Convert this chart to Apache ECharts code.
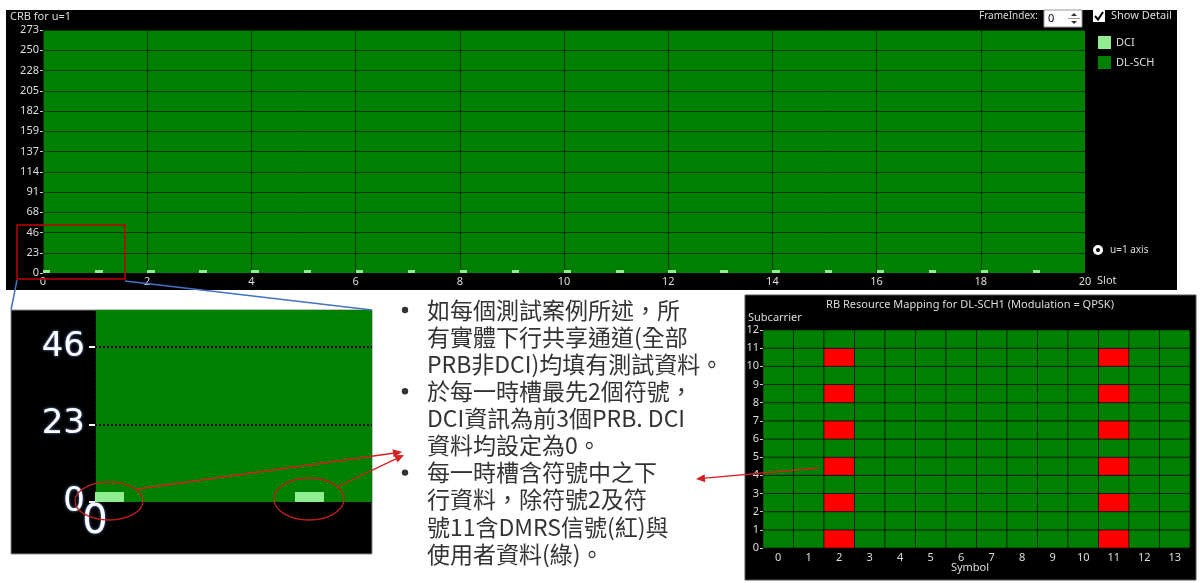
<!DOCTYPE html>
<html>
<head>
<meta charset="utf-8">
<script src="https://cdn.jsdelivr.net/npm/echarts@6/dist/echarts.min.js"></script>
<style>
  html, body { margin: 0; padding: 0; background: #fff; }
  #chart { width: 1200px; height: 583px; }
</style>
</head>
<body>
<div id="chart"></div>
<script>
// slot / PRB layout of the CRB chart
const slots = [0, 1, 2, 3, 4, 5, 6, 7, 8, 9, 10, 11, 12, 13, 14, 15, 16, 17, 18, 19];
const totalPrbs = 273;
const prbTickStep = 22.75;
const symbolsPerSlot = 14;
const dciSymbols = 2;
const dciPrbs = 3;

// RB resource mapping grid
const symbols = ['0', '1', '2', '3', '4', '5', '6', '7', '8', '9', '10', '11', '12', '13'];
const subcarriers = [0, 1, 2, 3, 4, 5, 6, 7, 8, 9, 10, 11];
const dmrsSymbols = [2, 11];
const dmrsSubcarriers = [0, 2, 4, 6, 8, 10];

const noteLines = [
    '如每個測試案例所述，所',
    '有實體下行共享通道(全部',
    'PRB非DCI)均填有測試資料。',
    '於每一時槽最先2個符號，',
    'DCI資訊為前3個PRB. DCI',
    '資料均設定為0。',
    '每一時槽含符號中之下',
    '行資料，除符號2及符',
    '號11含DMRS信號(紅)與',
    '使用者資料(綠)。'
];
const bulletLines = [0, 3, 6];

const GREEN = '#008000';
const LIGHT = '#90ee90';
const RED = '#ff0000';
const UI_FONT = 'Noto Sans';
const LABEL = '#dddddd';

const dlschData = slots.map(s => [s, s + 1, 0, totalPrbs]);
const dciData = slots.map(s => [s, s + dciSymbols / symbolsPerSlot, 0, dciPrbs]);

const cellData = [];
symbols.forEach((sym, i) => {
    subcarriers.forEach(sc => {
        const dmrs = dmrsSymbols.indexOf(i) >= 0 && dmrsSubcarriers.indexOf(sc) >= 0 ? 1 : 0;
        cellData.push([i, sc, dmrs]);
    });
});

function slotRect(params, api) {
    const p0 = api.coord([api.value(0), api.value(3)]);
    const p1 = api.coord([api.value(1), api.value(2)]);
    const x0 = Math.round(p0[0]), x1 = Math.round(p1[0]);
    const y0 = Math.round(p0[1]), y1 = Math.round(p1[1]);
    const cs = params.coordSys;
    const shape = echarts.graphic.clipRectByRect(
        { x: x0, y: y0, width: x1 - x0, height: y1 - y0 },
        { x: cs.x, y: cs.y, width: cs.width, height: cs.height });
    return shape && { type: 'rect', shape: shape, style: { fill: api.visual('color') } };
}

function cellRect(params, api) {
    const c = api.coord([api.value(0), api.value(1) + 0.5]);
    const w = api.size([1, 0])[0];
    const h = api.size([0, 1])[1];
    return {
        type: 'rect',
        shape: { x: c[0] - w / 2, y: c[1] - h / 2, width: w, height: h },
        style: { fill: api.value(2) ? RED : GREEN, stroke: 'rgba(0,0,0,0.55)', lineWidth: 1 }
    };
}

function arrow(x1, y1, x2, y2) {
    const a = Math.atan2(y2 - y1, x2 - x1), L = 9, W = 4;
    const bx = x2 - L * Math.cos(a), by = y2 - L * Math.sin(a);
    const px = -Math.sin(a) * W, py = Math.cos(a) * W;
    return [
        { type: 'line', z: 100, shape: { x1: x1, y1: y1, x2: bx, y2: by }, style: { stroke: '#d42020', lineWidth: 1.3 } },
        { type: 'polygon', z: 100, shape: { points: [[x2, y2], [bx + px, by + py], [bx - px, by - py]] }, style: { fill: '#d42020' } }
    ];
}

function uiText(text, x, y, size, align) {
    return {
        type: 'text', z: 10, x: x, y: y,
        style: { text: text, fill: LABEL, font: (size || 11) + 'px "' + UI_FONT + '"', align: align || 'left', verticalAlign: 'middle' }
    };
}

const graphics = [
    // panels
    { type: 'rect', z: 0, shape: { x: 6, y: 10, width: 1171, height: 280 }, style: { fill: '#000' } },
    { type: 'rect', z: 0, shape: { x: 11, y: 310, width: 361, height: 244 }, style: { fill: '#000', stroke: '#888', lineWidth: 1 } },
    { type: 'rect', z: 0, shape: { x: 745, y: 295, width: 451, height: 285 }, style: { fill: '#000', stroke: '#555', lineWidth: 1 } },

    // top panel widgets
    uiText('CRB for u=1', 10, 17),
    uiText('FrameIndex:', 979, 16, 10),
    { type: 'rect', z: 10, shape: { x: 1044, y: 10, width: 38, height: 17 }, style: { fill: '#fff', stroke: '#999' } },
    { type: 'text', z: 11, x: 1048, y: 19, style: { text: '0', fill: '#000', font: '11px "' + UI_FONT + '"', verticalAlign: 'middle' } },
    { type: 'line', z: 11, shape: { x1: 1068, y1: 18.5, x2: 1080, y2: 18.5 }, style: { stroke: '#999' } },
    { type: 'polygon', z: 11, shape: { points: [[1071, 16], [1077, 16], [1074, 13]] }, style: { fill: '#333' } },
    { type: 'polygon', z: 11, shape: { points: [[1071, 21], [1077, 21], [1074, 24]] }, style: { fill: '#333' } },
    { type: 'rect', z: 10, shape: { x: 1093, y: 10, width: 12, height: 12 }, style: { fill: '#fff' } },
    { type: 'polyline', z: 11, shape: { points: [[1095, 16], [1098, 19.5], [1103, 12]] }, style: { stroke: '#000', lineWidth: 2 } },
    uiText('Show Detail', 1111, 16),
    uiText('Slot', 1097, 281),
    { type: 'circle', z: 10, shape: { cx: 1098, cy: 250, r: 5 }, style: { fill: '#fff' } },
    { type: 'circle', z: 11, shape: { cx: 1098, cy: 250, r: 2 }, style: { fill: '#000' } },
    uiText('u=1 axis', 1110, 250, 10),

    // right panel texts
    uiText('RB Resource Mapping for DL-SCH1 (Modulation = QPSK)', 970, 305, 11, 'center'),
    uiText('Subcarrier', 748, 318),
    uiText('Symbol', 970, 568, 11, 'center'),

    // zoom box and connectors
    { type: 'rect', z: 100, shape: { x: 17, y: 225, width: 108, height: 54 }, style: { fill: 'none', stroke: '#c00000', lineWidth: 1.5 } },
    { type: 'line', z: 100, shape: { x1: 17, y1: 280, x2: 11, y2: 310 }, style: { stroke: '#4472c4', lineWidth: 1.5 } },
    { type: 'line', z: 100, shape: { x1: 125, y1: 281, x2: 372, y2: 310 }, style: { stroke: '#4472c4', lineWidth: 1.5 } },
    { type: 'ellipse', z: 100, shape: { cx: 109, cy: 501, rx: 34, ry: 19 }, style: { fill: 'none', stroke: '#c02020', lineWidth: 1.3 } },
    { type: 'ellipse', z: 100, shape: { cx: 309, cy: 499, rx: 35, ry: 21 }, style: { fill: 'none', stroke: '#c02020', lineWidth: 1.3 } }
].concat(arrow(137, 489, 402, 452), arrow(337, 487, 404, 455), arrow(818, 468, 696, 479));

noteLines.forEach((line, i) => {
    const y = 310 + i * 27.1;
    graphics.push({
        type: 'text', z: 10, x: 427, y: y,
        style: { text: line, fill: '#333', font: '23px "Noto Sans CJK TC"', verticalAlign: 'middle' }
    });
    if (bulletLines.indexOf(i) >= 0) {
        graphics.push({ type: 'circle', z: 10, shape: { cx: 405, cy: y, r: 3.2 }, style: { fill: '#333' } });
    }
});

const gridLine = { color: 'rgba(0,0,0,0.55)', width: 1 };
const bigLabel = {
    color: '#fff', fontFamily: 'DejaVu Sans',
    textShadowColor: 'rgba(120,160,255,0.9)', textShadowBlur: 3
};

const option = {
    backgroundColor: '#fff',
    animation: false,
    graphic: { elements: graphics },
    legend: {
        data: ['DCI', 'DL-SCH'],
        orient: 'vertical',
        left: 1093, top: 31,
        itemWidth: 13, itemHeight: 13, itemGap: 7,
        icon: 'rect',
        textStyle: { color: LABEL, fontSize: 11, fontFamily: UI_FONT }
    },
    grid: [
        { left: 43, top: 30, width: 1042, height: 243 },
        { left: 95, top: 310, width: 277, height: 192 },
        { left: 763, top: 330, width: 427, height: 218 }
    ],
    xAxis: [
        {
            gridIndex: 0, type: 'value', min: 0, max: 20, interval: 2, z: 4,
            axisLine: { show: false }, axisTick: { show: false },
            axisLabel: { color: LABEL, fontSize: 11, fontFamily: UI_FONT, margin: 3 },
            splitLine: { show: true, lineStyle: gridLine }
        },
        {
            gridIndex: 1, type: 'value', min: 0, max: 1.385, interval: 2, z: 4,
            axisLine: { show: false }, axisTick: { show: false },
            axisLabel: Object.assign({ fontSize: 40, margin: 1, showMaxLabel: false }, bigLabel),
            splitLine: { show: false }
        },
        {
            gridIndex: 2, type: 'category', data: symbols, z: 4,
            axisLine: { show: false }, axisTick: { show: false },
            axisLabel: { color: LABEL, fontSize: 11, fontFamily: UI_FONT, margin: 4 },
            splitLine: { show: false }
        }
    ],
    yAxis: [
        {
            gridIndex: 0, type: 'value', min: 0, max: totalPrbs, interval: prbTickStep, z: 4,
            axisLine: { show: false },
            axisTick: { show: true, length: 3, lineStyle: { color: '#ccc' } },
            axisLabel: { color: LABEL, fontSize: 11, fontFamily: UI_FONT, margin: 4, formatter: v => Math.round(v) },
            splitLine: { show: true, lineStyle: gridLine }
        },
        {
            gridIndex: 1, type: 'value', min: 0, max: 57, interval: 23, z: 4,
            axisLine: { show: true, lineStyle: { color: '#000', width: 2, type: 'dotted' } },
            axisTick: { show: true, length: 6, lineStyle: { color: '#fff', width: 2 } },
            axisLabel: Object.assign({ fontSize: 34, margin: 10, showMaxLabel: false }, bigLabel),
            splitLine: { show: true, showMinLine: false, showMaxLine: false, lineStyle: { color: '#000', width: 2, type: 'dotted' } }
        },
        {
            gridIndex: 2, type: 'value', min: 0, max: 12, interval: 1, z: 4,
            axisLine: { show: false },
            axisTick: { show: true, length: 3, lineStyle: { color: '#ccc' } },
            axisLabel: { color: LABEL, fontSize: 11, fontFamily: UI_FONT, margin: 4 },
            splitLine: { show: false }
        }
    ],
    series: [
        { name: 'DL-SCH', type: 'custom', xAxisIndex: 0, yAxisIndex: 0, z: 2, itemStyle: { color: GREEN }, renderItem: slotRect, data: dlschData },
        { name: 'DCI', type: 'custom', xAxisIndex: 0, yAxisIndex: 0, z: 5, itemStyle: { color: LIGHT }, renderItem: slotRect, data: dciData },
        { name: 'DL-SCH', type: 'custom', xAxisIndex: 1, yAxisIndex: 1, z: 2, itemStyle: { color: GREEN }, renderItem: slotRect, data: dlschData },
        { name: 'DCI', type: 'custom', xAxisIndex: 1, yAxisIndex: 1, z: 5, itemStyle: { color: LIGHT }, renderItem: slotRect, data: dciData },
        { name: 'RB Mapping', type: 'custom', xAxisIndex: 2, yAxisIndex: 2, z: 2, renderItem: cellRect, data: cellData }
    ]
};

const chart = echarts.init(document.getElementById('chart'));
chart.setOption(option);
</script>
</body>
</html>
